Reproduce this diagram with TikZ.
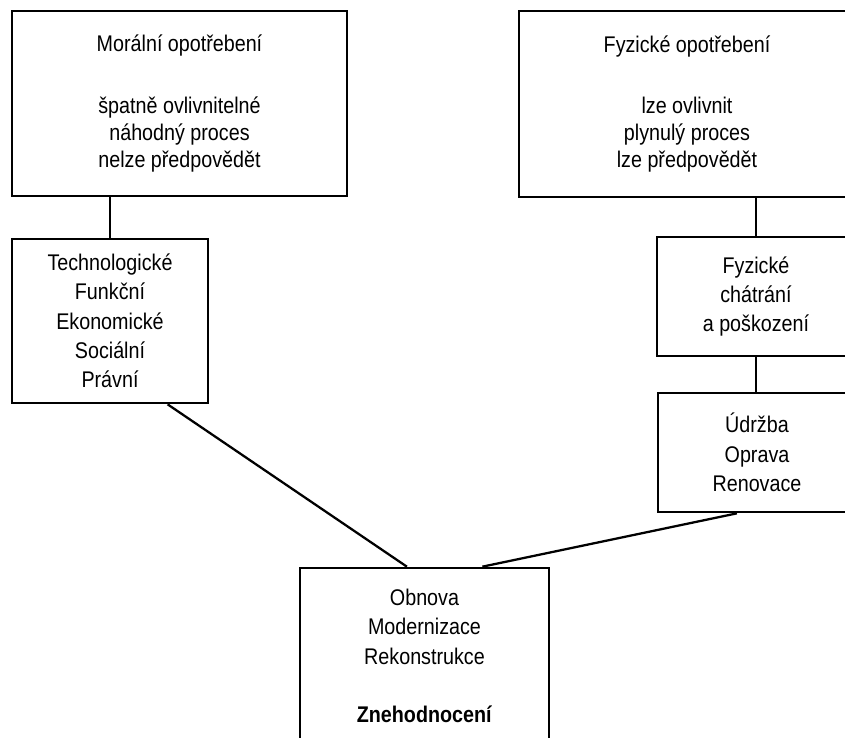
\documentclass[tikz,border=0pt]{standalone}
\usepackage{fontspec}
\setmainfont{Liberation Sans}
\newfontfamily\boxfont[FakeStretch=0.87]{Liberation Sans}
\usetikzlibrary{calc}
\begin{document}
\begin{tikzpicture}[x=0.75pt,y=-0.75pt,
  box/.style={draw=black,line width=2pt,rectangle,inner sep=0pt,align=center,
    font=\boxfont\fontsize{17}{22}\selectfont},
  topbox/.style={box,font=\boxfont\fontsize{17}{20.25}\selectfont},
  link/.style={draw=black,line width=1.7pt}]
  \useasboundingbox (0,0) rectangle (845,738);
  \clip (0,0) rectangle (845,738);

  % upper boxes: the two kinds of wear
  \node[topbox,minimum width=251.25pt,minimum height=138.75pt] (moral) at (179.5,103.5)
    {Morální opotřebení\\[26pt] špatně ovlivnitelné\\ náhodný proces\\ nelze předpovědět};
  \node[topbox,minimum width=252pt,minimum height=139.5pt] (fyz) at (687,104)
    {Fyzické opotřebení\\[26pt] lze ovlivnit\\ plynulý proces\\ lze předpovědět};

  % causes and remedies
  \node[box,minimum width=147pt,minimum height=123pt] (tech) at (110,321)
    {Technologické\\ Funkční\\ Ekonomické\\ Sociální\\ Právní};
  \node[box,minimum width=148.5pt,minimum height=89.25pt] (chat) at (756,296.5)
    {Fyzické\\ chátrání\\ a poškození};
  \node[box,minimum width=148.5pt,minimum height=89.25pt] (udr) at (757,452.5)
    {Údržba\\ Oprava\\ Renovace};

  % result
  \node[box,minimum width=186.75pt,minimum height=132pt] (obn) at (424.5,656)
    {Obnova\\ Modernizace\\ Rekonstrukce\\[22pt] \textbf{Znehodnocení}};

  % connectors
  \draw[link] (tech.north) -- (tech.north |- moral.south);
  \draw[link] (chat.north) -- (chat.north |- fyz.south);
  \draw[link] (chat.south) -- (chat.south |- udr.north);
  \draw[link] ($(tech.south west)!0.79!(tech.south east)$) -- ($(obn.north west)!0.43!(obn.north east)$);
  \draw[link] ($(udr.south west)!0.40!(udr.south east)$) -- ($(obn.north west)!0.73!(obn.north east)$);
\end{tikzpicture}
\end{document}
